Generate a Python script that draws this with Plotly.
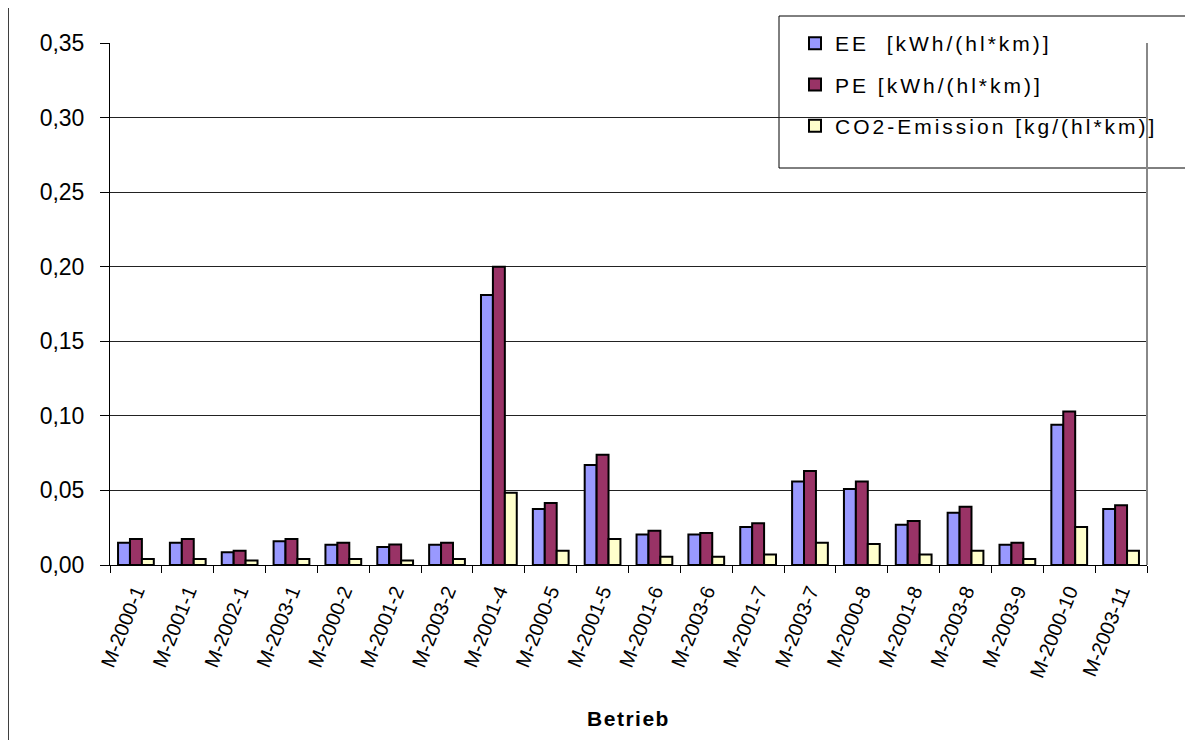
import plotly.graph_objects as go

categories = ["M-2000-1", "M-2001-1", "M-2002-1", "M-2003-1", "M-2000-2", "M-2001-2",
              "M-2003-2", "M-2001-4", "M-2000-5", "M-2001-5", "M-2001-6", "M-2003-6",
              "M-2001-7", "M-2003-7", "M-2000-8", "M-2001-8", "M-2003-8", "M-2003-9",
              "M-2000-10", "M-2003-11"]
ee = [0.015, 0.015, 0.0085, 0.016, 0.0135, 0.012, 0.0135, 0.181, 0.0375, 0.067,
      0.0205, 0.0205, 0.0255, 0.056, 0.051, 0.027, 0.035, 0.0135, 0.094, 0.0375]
pe = [0.0175, 0.0175, 0.0095, 0.0175, 0.015, 0.0138, 0.015, 0.200, 0.0415, 0.074,
      0.023, 0.0215, 0.028, 0.063, 0.056, 0.0295, 0.039, 0.015, 0.103, 0.040]
co2 = [0.004, 0.004, 0.003, 0.004, 0.004, 0.003, 0.004, 0.0485, 0.0095, 0.0175,
       0.0055, 0.0055, 0.007, 0.015, 0.014, 0.007, 0.0095, 0.004, 0.0255, 0.0095]
series_names = ["EE  [kWh/(hl*km)]", "PE [kWh/(hl*km)]", "CO2-Emission [kg/(hl*km)]"]
series_colors = ["#9999FF", "#993366", "#FFFFCC"]
y_tickvals = [0.00, 0.05, 0.10, 0.15, 0.20, 0.25, 0.30, 0.35]

# page body has an 8px default margin; work in reference-screen pixels and shift
OFF = 8
SW, SH = 1193, 740                 # screen size
PL, PR, PT, PB = 110, 1147, 43, 565  # plot area in screen pixels
W, H = SW - OFF, SH - OFF
L, T = PL - OFF, PT - OFF
R, B = SW - PR, SH - PB
pw, ph = PR - PL, PB - PT

def px_x(x):
    return (x - PL) / pw

def px_y(y):
    return (PB - y) / ph

FONT = "Liberation Sans, Arial, sans-serif"

fig = go.Figure()
for i, (name, vals, col) in enumerate(zip(series_names, [ee, pe, co2], series_colors)):
    fig.add_trace(go.Bar(
        x=categories, y=vals,
        name='<span style="letter-spacing:3px">' + name + '</span>',
        legendgroup=f"g{i}",
        marker=dict(color=col, line=dict(color="black", width=2)),
    ))

fig.update_layout(
    width=W, height=H,
    margin=dict(l=L, r=R, t=T, b=B, autoexpand=False),
    paper_bgcolor="white", plot_bgcolor="white",
    font=dict(family=FONT, color="black"),
    separators=",.",
    barmode="group", bargap=0.31, bargroupgap=0,
    showlegend=True,
    legend=dict(
        x=px_x(795), y=px_y(23), xanchor="left", yanchor="top",
        bgcolor="rgba(0,0,0,0)", borderwidth=0,
        font=dict(size=21, family=FONT),
        traceorder="grouped", tracegroupgap=11,
    ),
    xaxis=dict(
        type="category", showgrid=False,
        showline=True, linecolor="black", linewidth=1,
        ticks="outside", tickson="boundaries", ticklen=7, tickcolor="black",
        tickangle=-68, tickfont=dict(size=20), ticklabelstandoff=6,
        title=dict(text='<b><span style="letter-spacing:1.5px">Betrieb</span></b>',
                   font=dict(size=21), standoff=31),
    ),
    yaxis=dict(
        range=[0, 0.35], tickvals=y_tickvals, tickformat=".2f",
        showgrid=True, gridcolor="#222222", gridwidth=1,
        showline=True, linecolor="black", linewidth=1,
        ticks="outside", ticklen=9, tickcolor="black",
        tickfont=dict(size=23), zeroline=False, ticklabelstandoff=11,
    ),
    shapes=[
        # right edge of the plot area
        dict(type="line", xref="paper", yref="paper", x0=1, x1=1, y0=0, y1=1,
             line=dict(color="#888888", width=2)),
        # legend box
        dict(type="rect", xref="paper", yref="paper",
             x0=px_x(779), x1=px_x(1210), y0=px_y(168), y1=px_y(16),
             line=dict(color="black", width=1), fillcolor="white", layer="below"),
        # outer chart frame
        dict(type="rect", xref="paper", yref="paper",
             x0=px_x(8), x1=px_x(1210), y0=px_y(760), y1=px_y(5),
             line=dict(color="black", width=1.5), layer="below"),
    ],
)

fig.write_html("out.html")
